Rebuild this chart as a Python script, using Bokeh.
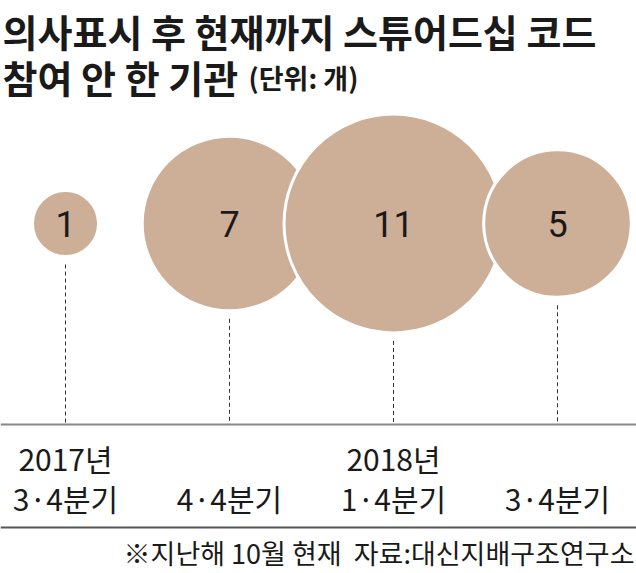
import math
from bokeh.plotting import figure
from bokeh.models import Range1d, ColumnDataSource, Label, Span
from bokeh.core.properties import value
from bokeh.embed import file_html
from bokeh.resources import INLINE

# ---- data ----
title_line1 = "의사표시 후 현재까지 스튜어드십 코드"
title_line2 = "참여 안 한 기관"
unit_text = "(단위: 개)"
years = ["2017년", "", "2018년", ""]
quarters = ["3·4분기", "4·4분기", "1·4분기", "3·4분기"]
counts = [1, 7, 11, 5]
footnote = "※지난해 10월 현재\u00a0\u00a0자료:대신지배구조연구소"

W, H = 636, 573
FONT = "Noto Sans CJK KR"
FILL = "#CDAE96"
INK = "#1a1a1a"

idx = list(range(len(counts)))
radius_px = [33 * math.sqrt(c) for c in counts]
cy = 223
base_y = 424

src = ColumnDataSource(dict(
    x=idx,
    y=[cy] * len(counts),
    r=radius_px,
    label=[str(c) for c in counts],
    y0=[cy + r + 8 for r in radius_px],
    y1=[base_y] * len(counts),
    year=years,
    quarter=quarters,
))

p = figure(width=W, height=H, output_backend="svg", toolbar_location=None,
           min_border=0, x_axis_location=None, y_axis_location=None,
           x_range=Range1d(-65 / 164, (W - 65) / 164),
           y_range=Range1d(H, 0))
p.grid.visible = False
p.outline_line_color = None
p.background_fill_color = "white"
p.border_fill_color = "white"

# dashed drop lines
p.segment(x0="x", y0="y0", x1="x", y1="y1", source=src,
          line_color="#333333", line_width=1, line_dash="4 3")

# bubbles
p.circle(x="x", y="y", radius="r", radius_units="screen", source=src,
         fill_color=FILL, line_color="white", line_width=3)

# bubble values
p.text(x="x", y="y", text="label", source=src, text_align="center",
       text_baseline="middle", text_color=INK,
       text_font=value("Roboto"), text_font_size=value("36px"))

# baselines
p.add_layout(Span(location=base_y, dimension="width", line_color="#8a8a8a", line_width=2))
p.add_layout(Span(location=527, dimension="width", line_color="#555555", line_width=2))

# category labels
p.text(x="x", y=457, text="year", source=src, text_align="center",
       text_baseline="middle", text_color=INK,
       text_font=value(FONT), text_font_size=value("30px"))
p.text(x="x", y=497, text="quarter", source=src, text_align="center",
       text_baseline="middle", text_color=INK,
       text_font=value(FONT), text_font_size=value("30px"))

# titles
p.add_layout(Label(x=2, y=H - 30, x_units="screen", y_units="screen",
                   text=title_line1, text_font=FONT, text_font_style="bold",
                   text_font_size="38px", text_color=INK, text_baseline="middle"))
p.add_layout(Label(x=2, y=H - 76, x_units="screen", y_units="screen",
                   text=title_line2, text_font=FONT, text_font_style="bold",
                   text_font_size="38px", text_color=INK, text_baseline="middle"))
p.add_layout(Label(x=248, y=H - 77, x_units="screen", y_units="screen",
                   text=unit_text, text_font=FONT, text_font_style="bold",
                   text_font_size="27px", text_color=INK, text_baseline="middle"))

# footnote
p.add_layout(Label(x=634, y=H - 552, x_units="screen", y_units="screen",
                   text=footnote, text_font=FONT, text_font_size="27px",
                   text_color=INK, text_align="right", text_baseline="middle"))

open("out.html", "w").write(file_html(p, INLINE))
